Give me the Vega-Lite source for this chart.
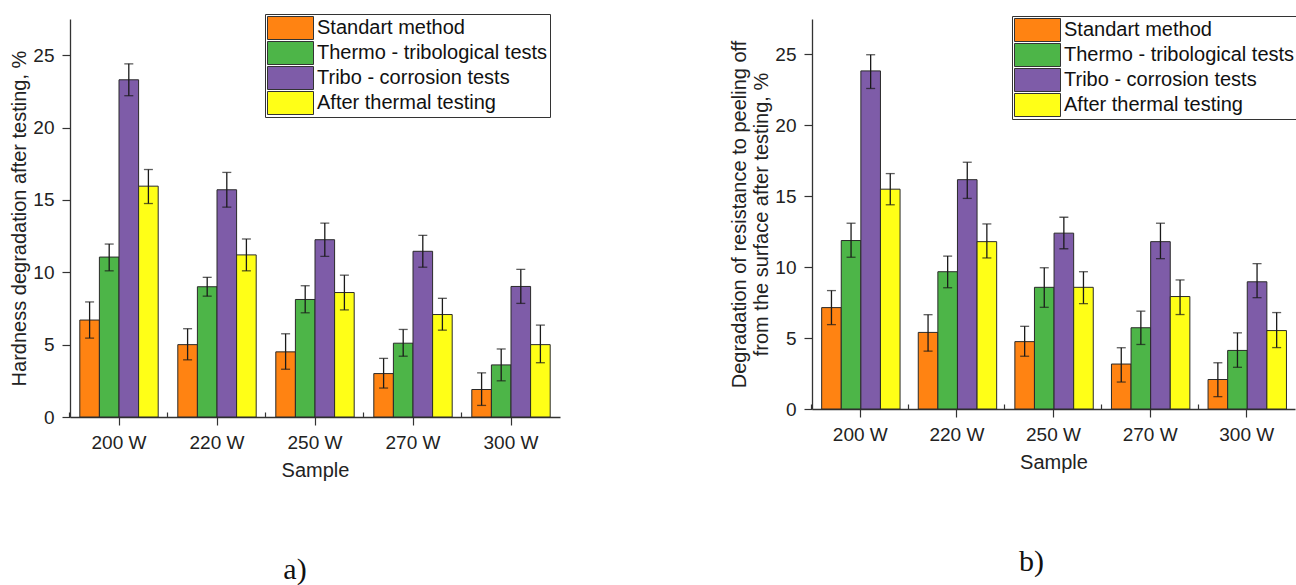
{
  "$schema": "https://vega.github.io/schema/vega-lite/v6.json",
  "background": "white",
  "padding": {"left": 9, "top": 13, "right": 0, "bottom": 0},
  "spacing": 169,
  "resolve": {"scale": {"color": "independent"}, "legend": {"color": "independent"}},
  "config": {
    "view": {"stroke": null},
    "font": "Liberation Sans",
    "axis": {"grid": false, "domainColor": "#333", "domainWidth": 1.3, "tickColor": "#333", "tickWidth": 1.2, "labelColor": "#222", "titleColor": "#222", "labelFont": "Liberation Sans", "titleFont": "Liberation Sans", "labelFontSize": 19, "titleFontSize": 20, "titleFontWeight": "normal"},
    "legend": {"orient": "none", "title": null, "symbolType": "M-1,-0.5H1V0.5H-1Z", "symbolSize": 2116, "clipHeight": 24, "rowPadding": 1, "labelFontSize": 20, "labelFont": "Liberation Sans", "labelColor": "#111", "labelOffset": 3, "strokeColor": "#333", "padding": 2, "symbolStrokeColor": "#333", "symbolStrokeWidth": 1, "symbolOpacity": 1, "labelLimit": 400, "fillColor": "white"}
  },
  "datasets": {
    "hard": [
      {"sample": "200 W", "test": "Standart method", "value": 6.7, "lo": 5.45, "hi": 7.95},
      {"sample": "200 W", "test": "Thermo - tribological tests", "value": 11.05, "lo": 10.1, "hi": 11.95},
      {"sample": "200 W", "test": "Tribo - corrosion tests", "value": 23.3, "lo": 22.2, "hi": 24.4},
      {"sample": "200 W", "test": "After thermal testing", "value": 15.95, "lo": 14.75, "hi": 17.1},
      {"sample": "220 W", "test": "Standart method", "value": 5.0, "lo": 3.95, "hi": 6.1},
      {"sample": "220 W", "test": "Thermo - tribological tests", "value": 9.0, "lo": 8.35, "hi": 9.65},
      {"sample": "220 W", "test": "Tribo - corrosion tests", "value": 15.7, "lo": 14.5, "hi": 16.9},
      {"sample": "220 W", "test": "After thermal testing", "value": 11.2, "lo": 10.1, "hi": 12.3},
      {"sample": "250 W", "test": "Standart method", "value": 4.5, "lo": 3.3, "hi": 5.75},
      {"sample": "250 W", "test": "Thermo - tribological tests", "value": 8.12, "lo": 7.2, "hi": 9.07},
      {"sample": "250 W", "test": "Tribo - corrosion tests", "value": 12.25, "lo": 11.1, "hi": 13.4},
      {"sample": "250 W", "test": "After thermal testing", "value": 8.6, "lo": 7.4, "hi": 9.8},
      {"sample": "270 W", "test": "Standart method", "value": 3.0, "lo": 2.0, "hi": 4.05},
      {"sample": "270 W", "test": "Thermo - tribological tests", "value": 5.1, "lo": 4.2, "hi": 6.05},
      {"sample": "270 W", "test": "Tribo - corrosion tests", "value": 11.45, "lo": 10.35, "hi": 12.55},
      {"sample": "270 W", "test": "After thermal testing", "value": 7.08, "lo": 6.0, "hi": 8.2},
      {"sample": "300 W", "test": "Standart method", "value": 1.9, "lo": 0.8, "hi": 3.05},
      {"sample": "300 W", "test": "Thermo - tribological tests", "value": 3.6, "lo": 2.5, "hi": 4.7},
      {"sample": "300 W", "test": "Tribo - corrosion tests", "value": 9.02, "lo": 7.85, "hi": 10.2},
      {"sample": "300 W", "test": "After thermal testing", "value": 5.0, "lo": 3.75, "hi": 6.35}
    ],
    "peel": [
      {"sample": "200 W", "test": "Standart method", "value": 7.15, "lo": 5.95, "hi": 8.35},
      {"sample": "200 W", "test": "Thermo - tribological tests", "value": 11.88, "lo": 10.7, "hi": 13.1},
      {"sample": "200 W", "test": "Tribo - corrosion tests", "value": 23.84, "lo": 22.6, "hi": 24.98},
      {"sample": "200 W", "test": "After thermal testing", "value": 15.5, "lo": 14.4, "hi": 16.6},
      {"sample": "220 W", "test": "Standart method", "value": 5.4, "lo": 4.08, "hi": 6.65},
      {"sample": "220 W", "test": "Thermo - tribological tests", "value": 9.68, "lo": 8.55, "hi": 10.78},
      {"sample": "220 W", "test": "Tribo - corrosion tests", "value": 16.17, "lo": 14.85, "hi": 17.4},
      {"sample": "220 W", "test": "After thermal testing", "value": 11.8, "lo": 10.65, "hi": 13.05},
      {"sample": "250 W", "test": "Standart method", "value": 4.75, "lo": 3.72, "hi": 5.83},
      {"sample": "250 W", "test": "Thermo - tribological tests", "value": 8.58, "lo": 7.17, "hi": 9.96},
      {"sample": "250 W", "test": "Tribo - corrosion tests", "value": 12.4, "lo": 11.3, "hi": 13.52},
      {"sample": "250 W", "test": "After thermal testing", "value": 8.58, "lo": 7.43, "hi": 9.68},
      {"sample": "270 W", "test": "Standart method", "value": 3.17, "lo": 1.9, "hi": 4.32},
      {"sample": "270 W", "test": "Thermo - tribological tests", "value": 5.73, "lo": 4.55, "hi": 6.9},
      {"sample": "270 W", "test": "Tribo - corrosion tests", "value": 11.8, "lo": 10.6, "hi": 13.1},
      {"sample": "270 W", "test": "After thermal testing", "value": 7.93, "lo": 6.66, "hi": 9.1},
      {"sample": "300 W", "test": "Standart method", "value": 2.08, "lo": 0.87, "hi": 3.26},
      {"sample": "300 W", "test": "Thermo - tribological tests", "value": 4.13, "lo": 2.94, "hi": 5.37},
      {"sample": "300 W", "test": "Tribo - corrosion tests", "value": 8.97, "lo": 7.85, "hi": 10.25},
      {"sample": "300 W", "test": "After thermal testing", "value": 5.53, "lo": 4.33, "hi": 6.8}
    ]
  },
  "hconcat": [
    {
      "data": {"name": "hard"},
      "width": 490,
      "height": 398,
      "title": {"text": "a)", "orient": "bottom", "anchor": "middle", "frame": "group", "font": "Liberation Serif", "fontSize": 30, "fontWeight": "normal", "color": "#111", "offset": 75, "dx": -20},
      "resolve": {"axis": {"x": "independent"}},
      "encoding": {
        "xOffset": {"field": "test", "type": "nominal", "sort": ["Standart method", "Thermo - tribological tests", "Tribo - corrosion tests", "After thermal testing"], "scale": {"paddingInner": 0, "paddingOuter": 0}}
      },
      "layer": [
        {
          "mark": {"type": "bar", "stroke": "#2a2a2a", "strokeWidth": 1},
          "encoding": {
            "x": {"field": "sample", "type": "nominal", "title": "Sample", "scale": {"paddingInner": 0.2, "paddingOuter": 0.1}, "axis": {"labelAngle": 0, "tickSize": 8, "labelPadding": 8, "titlePadding": 8}},
            "y": {"field": "value", "type": "quantitative", "title": "Hardness degradation after testing, %", "scale": {"domain": [0, 27.5], "nice": false}, "axis": {"values": [0, 2.5, 5, 7.5, 10, 12.5, 15, 17.5, 20, 22.5, 25], "labelExpr": "datum.value % 5 === 0 ? datum.label : ''", "tickSize": {"condition": {"test": "datum.value % 5 === 0", "value": 8}, "value": 4}, "labelPadding": 8, "titlePadding": 3}},
            "color": {"field": "test", "type": "nominal", "sort": ["Standart method", "Thermo - tribological tests", "Tribo - corrosion tests", "After thermal testing"], "scale": {"domain": ["Standart method", "Thermo - tribological tests", "Tribo - corrosion tests", "After thermal testing"], "range": ["#FF8312", "#4DB548", "#7E5CA8", "#FFFF17"]}, "legend": {"legendX": 195, "legendY": -5}}
          }
        },
        {
          "mark": {"type": "rule", "color": "#1a1a1a", "strokeWidth": 1.3},
          "encoding": {
            "x": {"field": "sample", "type": "nominal", "title": null, "axis": {"orient": "bottom", "bandPosition": -0.128, "tickSize": -5, "labels": false, "domain": false, "title": null}},
            "y": {"field": "lo", "type": "quantitative", "title": "Hardness degradation after testing, %"}, "y2": {"field": "hi"}}
        },
        {
          "mark": {"type": "tick", "color": "#1a1a1a", "thickness": 1.3, "size": 9},
          "encoding": {"x": {"field": "sample", "type": "nominal", "axis": null}, "y": {"field": "lo", "type": "quantitative", "title": "Hardness degradation after testing, %"}}
        },
        {
          "mark": {"type": "tick", "color": "#1a1a1a", "thickness": 1.3, "size": 9},
          "encoding": {"x": {"field": "sample", "type": "nominal", "axis": null}, "y": {"field": "hi", "type": "quantitative", "title": "Hardness degradation after testing, %"}}
        }
      ]
    },
    {
      "data": {"name": "peel"},
      "width": 483,
      "height": 390,
      "title": {"text": "b)", "orient": "bottom", "anchor": "middle", "frame": "group", "font": "Liberation Serif", "fontSize": 30, "fontWeight": "normal", "color": "#111", "offset": 75, "dx": -22},
      "resolve": {"axis": {"x": "independent"}},
      "encoding": {
        "xOffset": {"field": "test", "type": "nominal", "sort": ["Standart method", "Thermo - tribological tests", "Tribo - corrosion tests", "After thermal testing"], "scale": {"paddingInner": 0, "paddingOuter": 0}}
      },
      "layer": [
        {
          "mark": {"type": "bar", "stroke": "#2a2a2a", "strokeWidth": 1},
          "encoding": {
            "x": {"field": "sample", "type": "nominal", "title": "Sample", "scale": {"paddingInner": 0.2, "paddingOuter": 0.1}, "axis": {"labelAngle": 0, "tickSize": 8, "labelPadding": 8, "titlePadding": 8}},
            "y": {"field": "value", "type": "quantitative", "title": ["Degradation of resistance to peeling off", "from the surface after testing, %"], "scale": {"domain": [0, 27.5], "nice": false}, "axis": {"values": [0, 2.5, 5, 7.5, 10, 12.5, 15, 17.5, 20, 22.5, 25], "labelExpr": "datum.value % 5 === 0 ? datum.label : ''", "tickSize": {"condition": {"test": "datum.value % 5 === 0", "value": 8}, "value": 4}, "labelPadding": 8, "titlePadding": 3}},
            "color": {"field": "test", "type": "nominal", "sort": ["Standart method", "Thermo - tribological tests", "Tribo - corrosion tests", "After thermal testing"], "scale": {"domain": ["Standart method", "Thermo - tribological tests", "Tribo - corrosion tests", "After thermal testing"], "range": ["#FF8312", "#4DB548", "#7E5CA8", "#FFFF17"]}, "legend": {"legendX": 200, "legendY": -3}}
          }
        },
        {
          "mark": {"type": "rule", "color": "#1a1a1a", "strokeWidth": 1.3},
          "encoding": {
            "x": {"field": "sample", "type": "nominal", "title": null, "axis": {"orient": "bottom", "bandPosition": -0.128, "tickSize": -5, "labels": false, "domain": false, "title": null}},
            "y": {"field": "lo", "type": "quantitative", "title": ["Degradation of resistance to peeling off", "from the surface after testing, %"]}, "y2": {"field": "hi"}}
        },
        {
          "mark": {"type": "tick", "color": "#1a1a1a", "thickness": 1.3, "size": 9},
          "encoding": {"x": {"field": "sample", "type": "nominal", "axis": null}, "y": {"field": "lo", "type": "quantitative", "title": ["Degradation of resistance to peeling off", "from the surface after testing, %"]}}
        },
        {
          "mark": {"type": "tick", "color": "#1a1a1a", "thickness": 1.3, "size": 9},
          "encoding": {"x": {"field": "sample", "type": "nominal", "axis": null}, "y": {"field": "hi", "type": "quantitative", "title": ["Degradation of resistance to peeling off", "from the surface after testing, %"]}}
        }
      ]
    }
  ]
}
